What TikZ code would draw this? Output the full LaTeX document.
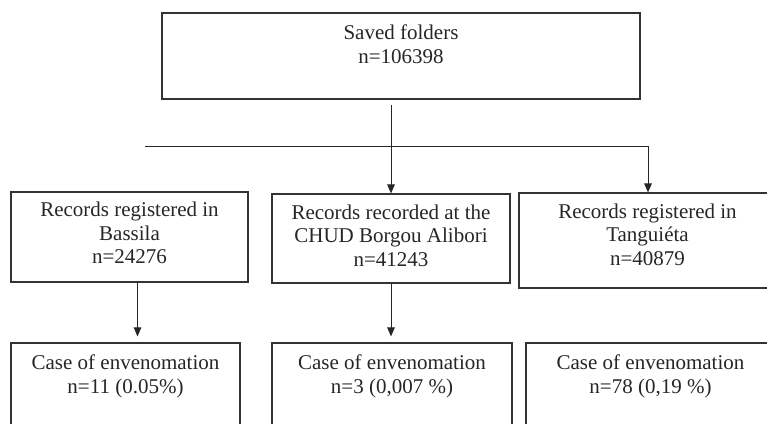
\documentclass[tikz,border=0pt]{standalone}
\usepackage{fontspec}
\setmainfont{Liberation Serif}
\usetikzlibrary{arrows.meta,calc}
\begin{document}
\begin{tikzpicture}[x=1pt,y=1pt,
  box/.style={draw=black!80, line width=1.1pt, rectangle, inner sep=0pt},
  txt/.style={anchor=north, inner sep=0pt, align=center, text=black!85,
    font=\fontsize{21}{23.5}\selectfont},
  conn/.style={draw=black!85, line width=1pt},
  arr/.style={conn, -{Triangle[length=9pt,width=7.5pt]}}]
\useasboundingbox (0,0) rectangle (767,-423);
\clip (0,0) rectangle (767,-423);
% boxes
\node[box, minimum width=478pt, minimum height=86pt] (top) at (401,-56) {};
\node[box, minimum width=237pt, minimum height=90pt] (b1) at (129.5,-237) {};
\node[box, minimum width=238pt, minimum height=89pt] (b2) at (391,-238.5) {};
\node[box, minimum width=257pt, minimum height=95pt] (b3) at (647.5,-240.5) {};
\node[box, minimum width=229pt, minimum height=100pt] (b4) at (125.5,-393) {};
\node[box, minimum width=240pt, minimum height=100pt] (b5) at (392,-393) {};
\node[box, minimum width=249pt, minimum height=100pt] (b6) at (650.5,-393) {};
% texts
\node[txt] (ttop) at ([yshift=-10.5pt]top.north) {\strut Saved folders\\n=106398};
\node[txt] (tb1) at ([yshift=-8.5pt]b1.north) {\strut Records registered in\\Bassila\\n=24276};
\node[txt] (tb2) at ([yshift=-9pt]b2.north) {\strut Records recorded at the\\CHUD Borgou Alibori\\n=41243};
\node[txt] (tb3) at ([yshift=-9pt]b3.north) {\strut Records registered in\\Tanguiéta\\n=40879};
\node[txt] (tb4) at ([yshift=-10.5pt]b4.north) {\strut Case of envenomation\\n=11 (0.05\%)};
\node[txt] (tb5) at ([yshift=-10.5pt]b5.north) {\strut Case of envenomation\\n=3 (0,007 \%)};
\node[txt] (tb6) at ([yshift=-10.5pt]b6.north) {\strut Case of envenomation\\n=78 (0,19 \%)};
% connectors
\coordinate (hl) at (145,-146);
\coordinate (hr) at (648,-146);
\draw[conn] (hl) -- (hr);
\draw[arr] ([yshift=-5pt]top.south -| b2.north) -- (b2.north);
\draw[arr] (hr) -- (hr |- b3.north);
\draw[arr] ([xshift=8pt]b1.south) -- ([xshift=12pt,yshift=6pt]b4.north);
\draw[arr] (b2.south) -- ([yshift=6pt]b2.south |- b5.north);
\end{tikzpicture}
\end{document}
